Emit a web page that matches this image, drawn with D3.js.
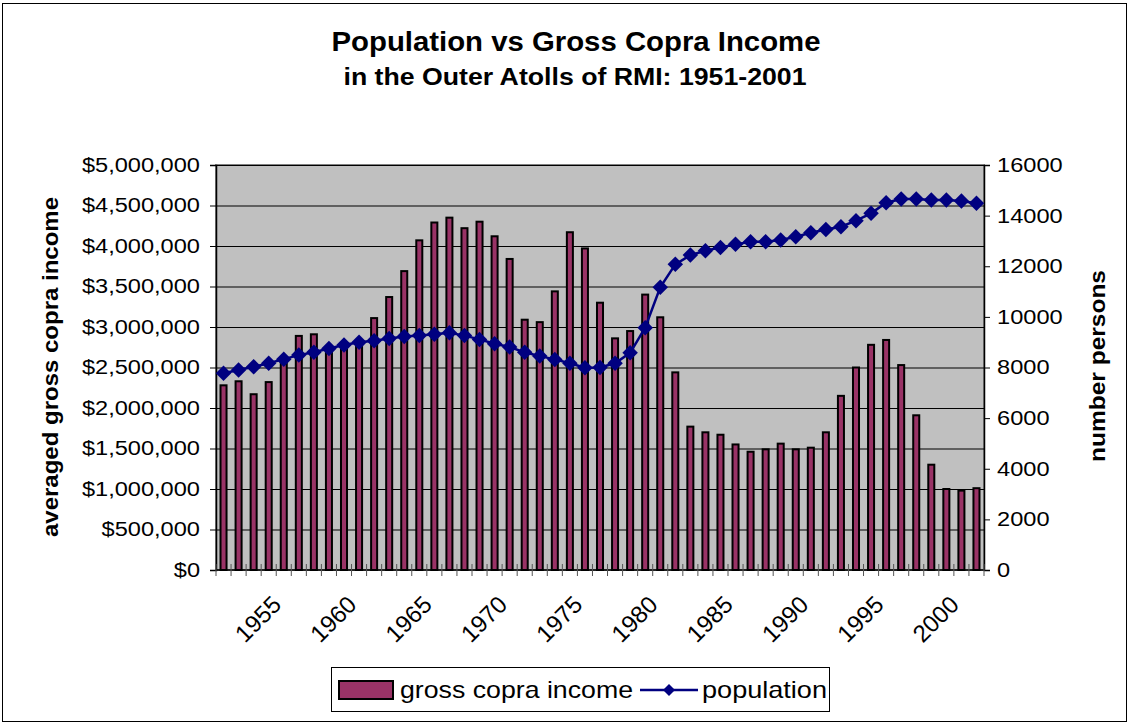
<!DOCTYPE html>
<html>
<head>
<meta charset="utf-8">
<script src="https://cdn.jsdelivr.net/npm/d3@7"></script>
<style>
    body { margin: 0; background: #fff; }
    svg { font-family: "Liberation Sans", Arial, sans-serif; }
</style>
</head>
<body>
<svg id="chart" width="1130" height="725"></svg>
<script>
// data
var years = [1951, 1952, 1953, 1954, 1955, 1956, 1957, 1958, 1959, 1960,
    1961, 1962, 1963, 1964, 1965, 1966, 1967, 1968, 1969, 1970,
    1971, 1972, 1973, 1974, 1975, 1976, 1977, 1978, 1979, 1980,
    1981, 1982, 1983, 1984, 1985, 1986, 1987, 1988, 1989, 1990,
    1991, 1992, 1993, 1994, 1995, 1996, 1997, 1998, 1999, 2000, 2001];

var labelYears = [1955, 1960, 1965, 1970, 1975, 1980, 1985, 1990, 1995, 2000];

var income = [2280000, 2330000, 2170000, 2320000, 2560000, 2890000, 2910000, 2720000, 2760000, 2830000,
    3110000, 3370000, 3690000, 4070000, 4290000, 4350000, 4220000, 4300000, 4120000, 3840000,
    3090000, 3060000, 3440000, 4170000, 3970000, 3300000, 2860000, 2950000, 3400000, 3120000,
    2440000, 1770000, 1700000, 1670000, 1550000, 1460000, 1490000, 1560000, 1490000, 1510000,
    1700000, 2150000, 2500000, 2780000, 2840000, 2530000, 1910000, 1300000, 1000000, 980000, 1010000];

var population = [7770, 7900, 8030, 8165, 8330, 8490, 8600, 8750, 8890, 8995,
    9060, 9150, 9220, 9260, 9310, 9375, 9260, 9110, 8940, 8810,
    8600, 8450, 8320, 8165, 7990, 8000, 8165, 8580, 9570, 11170,
    12075, 12440, 12615, 12745, 12865, 12970, 12970, 13035, 13165, 13325,
    13455, 13560, 13800, 14090, 14510, 14655, 14655, 14615, 14615, 14575, 14485];

var incomeTicks = [0, 500000, 1000000, 1500000, 2000000, 2500000, 3000000, 3500000, 4000000, 4500000, 5000000];
var popTicks = [0, 2000, 4000, 6000, 8000, 10000, 12000, 14000, 16000];

var BAR = "#993366", NAVY = "#000080", PLOT_BG = "#c0c0c0";

// widen glyphs a bit, the source renders text wider than Arial
function stretch(sel, k) {
    sel.each(function () {
        var len = this.getComputedTextLength();
        d3.select(this).attr("textLength", len * k).attr("lengthAdjust", "spacingAndGlyphs");
    });
}

var svg = d3.select("svg#chart"),
    margin = {top: 165, left: 216, bottom: 155, right: 146},
    width = +svg.attr("width") - margin.left - margin.right,
    height = +svg.attr("height") - margin.top - margin.bottom;

// outer frame
svg.append("rect")
    .attr("x", 2.5).attr("y", 3.5)
    .attr("width", 1124).attr("height", 718)
    .attr("fill", "#fff").attr("stroke", "#000");

// titles
svg.append("text")
    .attr("x", 576).attr("y", 51)
    .attr("text-anchor", "middle")
    .attr("font-size", 28).attr("font-weight", "bold")
    .attr("textLength", 489).attr("lengthAdjust", "spacingAndGlyphs")
    .text("Population vs Gross Copra Income");
svg.append("text")
    .attr("x", 575).attr("y", 85)
    .attr("text-anchor", "middle")
    .attr("font-size", 23).attr("font-weight", "bold")
    .attr("textLength", 463).attr("lengthAdjust", "spacingAndGlyphs")
    .text("in the Outer Atolls of RMI: 1951-2001");

var g = svg.append("g").attr("transform", "translate(" + margin.left + "," + margin.top + ")");

// scales
var x = d3.scaleBand()
    .domain(years)
    .range([0, width])
    .paddingInner(0.6)
    .paddingOuter(0.3);

var yInc = d3.scaleLinear().domain([0, 5000000]).range([height, 0]);
var yPop = d3.scaleLinear().domain([0, 16000]).range([height, 0]);

function cx(yr) {
    return x(yr) + x.bandwidth() / 2;
}

// plot area
g.append("rect")
    .attr("width", width).attr("height", height)
    .attr("fill", PLOT_BG)
    .attr("stroke", "#808080").attr("stroke-width", 2);

g.append("g")
    .attr("class", "grid")
    .selectAll("line")
    .data(incomeTicks.slice(1))
    .enter().append("line")
    .attr("x1", 0).attr("x2", width)
    .attr("y1", function (d) { return yInc(d) + 0.5; })
    .attr("y2", function (d) { return yInc(d) + 0.5; })
    .attr("stroke", "#000").attr("stroke-width", 1);

// bars
g.append("g")
    .selectAll("rect")
    .data(years)
    .enter().append("rect")
    .attr("x", function (d) { return x(d); })
    .attr("y", function (d, i) { return yInc(income[i]); })
    .attr("width", x.bandwidth())
    .attr("height", function (d, i) { return height - yInc(income[i]); })
    .attr("fill", BAR)
    .attr("stroke", "#000").attr("stroke-width", 2);

// axes
var leftAxis = d3.axisLeft(yInc)
    .tickValues(incomeTicks)
    .tickSize(6).tickPadding(10)
    .tickFormat(function (d) { return "$" + d3.format(",")(d); });

var rightAxis = d3.axisRight(yPop)
    .tickValues(popTicks)
    .tickSize(6).tickPadding(7)
    .tickFormat(d3.format("d"));

var gl = g.append("g").attr("class", "y axis left").call(leftAxis);
var gr = g.append("g").attr("class", "y axis right")
    .attr("transform", "translate(" + width + ",0)").call(rightAxis);

[gl, gr].forEach(function (a) {
    a.selectAll("path.domain").attr("stroke", "#000").attr("stroke-width", 1.5);
    a.selectAll("line").attr("stroke", "#000");
    a.selectAll("text")
        .attr("font-size", 20).attr("fill", "#000")
        .attr("font-family", "'Liberation Sans', Arial, sans-serif");
    stretch(a.selectAll("text"), 1.18);
});

// category axis: ticks sit between categories
var gap = (x.step() - x.bandwidth()) / 2;
var gx = g.append("g").attr("class", "x axis").attr("transform", "translate(0," + height + ")");
gx.append("line")
    .attr("x1", 0).attr("x2", width)
    .attr("stroke", "#000").attr("stroke-width", 1.5);
gx.selectAll("line.tick")
    .data(years.concat(["end"]))
    .enter().append("line")
    .attr("class", "tick")
    .attr("x1", function (d) { return d === "end" ? width : x(d) - gap; })
    .attr("x2", function (d) { return d === "end" ? width : x(d) - gap; })
    .attr("y1", -6).attr("y2", 6)
    .attr("stroke", "#555");
gx.selectAll("text")
    .data(labelYears)
    .enter().append("text")
    .attr("transform", function (d) {
        return "translate(" + (cx(d) - 1) + ",36) rotate(-45)";
    })
    .attr("text-anchor", "end")
    .attr("font-size", 24)
    .text(function (d) { return d; });

// population line
var line = d3.line()
    .x(function (d) { return cx(d); })
    .y(function (d, i) { return yPop(population[i]); });

g.append("path")
    .attr("d", line(years))
    .attr("fill", "none")
    .attr("stroke", NAVY).attr("stroke-width", 2.5);

var diamond = d3.symbol().type(d3.symbolSquare).size(120);
g.append("g")
    .selectAll("path")
    .data(years)
    .enter().append("path")
    .attr("d", diamond)
    .attr("transform", function (d, i) {
        return "translate(" + cx(d) + "," + yPop(population[i]) + ") rotate(45)";
    })
    .attr("fill", NAVY);

// axis titles
svg.append("text")
    .attr("transform", "translate(58,367) rotate(-90)")
    .attr("text-anchor", "middle")
    .attr("font-size", 22).attr("font-weight", "bold")
    .attr("textLength", 340).attr("lengthAdjust", "spacingAndGlyphs")
    .text("averaged gross copra income");

svg.append("text")
    .attr("transform", "translate(1105,366) rotate(-90)")
    .attr("text-anchor", "middle")
    .attr("font-size", 22).attr("font-weight", "bold")
    .attr("textLength", 192).attr("lengthAdjust", "spacingAndGlyphs")
    .text("number persons");

// legend
var lg = svg.append("g").attr("class", "legend");
lg.append("rect")
    .attr("x", 331.5).attr("y", 667.5)
    .attr("width", 498).attr("height", 44)
    .attr("fill", "#fff").attr("stroke", "#000");
lg.append("rect")
    .attr("x", 339).attr("y", 681)
    .attr("width", 54).attr("height", 18)
    .attr("fill", BAR).attr("stroke", "#000").attr("stroke-width", 2);
lg.append("text")
    .attr("x", 400).attr("y", 698)
    .attr("font-size", 24)
    .attr("textLength", 233).attr("lengthAdjust", "spacingAndGlyphs")
    .text("gross copra income");
lg.append("line")
    .attr("x1", 640).attr("x2", 698)
    .attr("y1", 690).attr("y2", 690)
    .attr("stroke", NAVY).attr("stroke-width", 2.5);
lg.append("path")
    .attr("d", d3.symbol().type(d3.symbolSquare).size(72))
    .attr("transform", "translate(669,690) rotate(45)")
    .attr("fill", NAVY);
lg.append("text")
    .attr("x", 702).attr("y", 698)
    .attr("font-size", 24)
    .attr("textLength", 125).attr("lengthAdjust", "spacingAndGlyphs")
    .text("population");
</script>
</body>
</html>
